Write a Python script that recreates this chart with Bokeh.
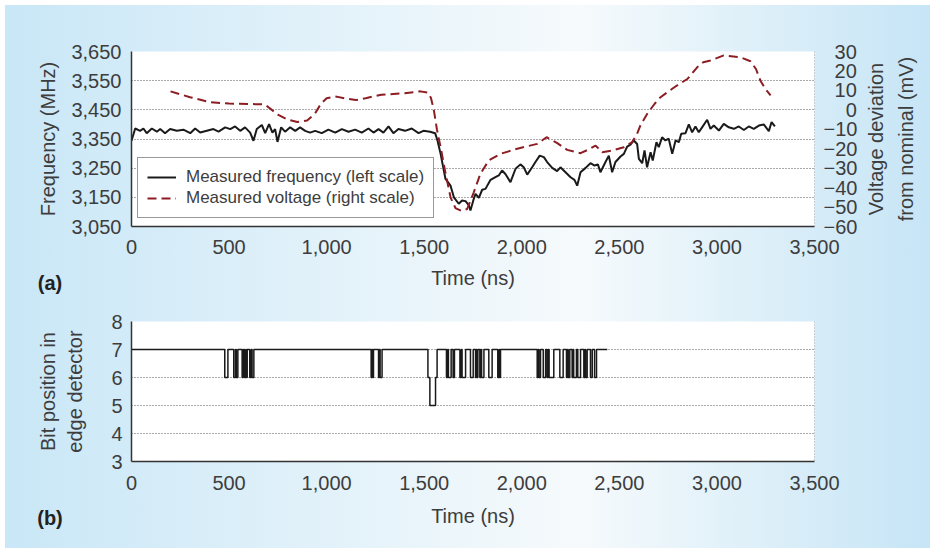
import math
from bokeh.plotting import figure
from bokeh.models import (Range1d, LinearAxis, FixedTicker, NumeralTickFormatter,
                          Legend, LegendItem, Span)
from bokeh.layouts import column, row
from bokeh.embed import file_html
from bokeh.resources import INLINE

# ---------------- data ----------------
freq_time = [0, 19, 44, 61, 78, 104, 130, 147, 172, 198, 232, 266, 301, 326, 352, 386,
             420, 446, 480, 506, 531, 557, 582, 608, 625, 642, 668, 685, 705, 722, 736,
             748, 767, 787, 813, 839, 864, 890, 915, 941, 975, 1009, 1044, 1078, 1112,
             1146, 1180, 1214, 1240, 1266, 1291, 1317, 1342, 1368, 1402, 1436, 1471,
             1496, 1530, 1556, 1568, 1584, 1609, 1635, 1652, 1677, 1694, 1712, 1729,
             1737, 1754, 1763, 1780, 1797, 1814, 1840, 1865, 1882, 1899, 1916, 1942,
             1968, 1993, 2010, 2028, 2053, 2070, 2092, 2113, 2130, 2156, 2181, 2198,
             2224, 2250, 2270, 2284, 2301, 2327, 2352, 2373, 2390, 2403, 2429, 2446,
             2463, 2480, 2506, 2523, 2540, 2557, 2574, 2591, 2600, 2617, 2629, 2642,
             2660, 2671, 2690, 2702, 2719, 2736, 2753, 2771, 2788, 2805, 2817, 2839,
             2856, 2873, 2890, 2907, 2924, 2950, 2967, 2984, 3010, 3035, 3061, 3087,
             3112, 3138, 3163, 3189, 3215, 3240, 3266, 3280, 3297]
freq_mhz = [3344, 3386, 3378, 3386, 3370, 3386, 3375, 3384, 3370, 3384, 3378, 3382, 3370,
            3386, 3372, 3378, 3384, 3375, 3390, 3384, 3393, 3378, 3390, 3372, 3344, 3384,
            3398, 3370, 3401, 3372, 3384, 3340, 3390, 3375, 3390, 3378, 3390, 3378, 3372,
            3378, 3370, 3382, 3372, 3384, 3375, 3382, 3372, 3386, 3372, 3384, 3372, 3393,
            3370, 3384, 3378, 3386, 3370, 3378, 3375, 3370, 3345, 3299, 3213, 3190, 3150,
            3128, 3139, 3137, 3122, 3105, 3145, 3162, 3148, 3176, 3179, 3210, 3219, 3225,
            3242, 3230, 3202, 3248, 3263, 3253, 3228, 3253, 3271, 3293, 3288, 3271, 3251,
            3240, 3253, 3236, 3219, 3210, 3190, 3236, 3251, 3267, 3259, 3263, 3236, 3271,
            3293, 3236, 3271, 3290, 3299, 3324, 3331, 3345, 3333, 3282, 3267, 3311, 3253,
            3305, 3276, 3339, 3322, 3356, 3345, 3351, 3299, 3345, 3339, 3368, 3370, 3400,
            3373, 3393, 3373, 3390, 3416, 3385, 3396, 3379, 3402, 3390, 3385, 3393, 3381,
            3393, 3385, 3396, 3400, 3377, 3408, 3393]

volt_time = [200, 300, 400, 500, 600, 680, 700, 750, 800, 850, 900, 940, 970, 1000, 1050,
             1100, 1150, 1200, 1280, 1400, 1480, 1520, 1535, 1550, 1565, 1584, 1610, 1635,
             1660, 1690, 1720, 1754, 1788, 1831, 1891, 1977, 2079, 2127, 2180, 2233, 2301,
             2340, 2378, 2412, 2460, 2523, 2566, 2591, 2608, 2643, 2680, 2711, 2780, 2850,
             2900, 2930, 2967, 3035, 3121, 3172, 3200, 3223, 3250, 3275]
volt_mv = [9.5, 6.5, 4.0, 3.2, 3.0, 2.8, 1.5, -2.5, -5.0, -6.3, -5.5, -2.0, 3.0, 6.0, 6.8,
           5.8, 5.0, 6.0, 7.8, 8.5, 9.5, 8.8, 6.0, -0.5, -10.0, -19.2, -33.0, -45.0, -50.5,
           -52.0, -51.0, -42.4, -32.9, -26.0, -22.6, -20.0, -17.5, -14.1, -17.0, -20.6,
           -22.3, -20.5, -18.4, -21.8, -21.0, -19.2, -16.6, -12.3, -8.0, -2.0, 3.0, 6.5,
           11.5, 16.0, 22.0, 24.5, 25.4, 28.0, 27.0, 25.0, 21.0, 15.0, 10.5, 7.4]

bit_time = [0, 478, 494, 524, 533, 537, 545, 567, 573, 579, 586, 589, 593, 606, 613, 618, 627,
            1228, 1233, 1236, 1240, 1266, 1270, 1274, 1284,
            1519, 1529, 1558, 1566, 1614, 1620, 1624, 1638, 1648, 1655, 1683, 1690, 1694,
            1712, 1737, 1751, 1763, 1766, 1770, 1775, 1785, 1790, 1794, 1806, 1831, 1848,
            1877, 1884, 1887, 1891,
            2079, 2084, 2088, 2096, 2110, 2122, 2130, 2135, 2140, 2164, 2195, 2212, 2229,
            2234, 2238, 2246, 2258, 2263, 2266, 2280, 2287, 2301, 2318, 2323, 2327, 2335,
            2352, 2361, 2373, 2383, 2438]
bit_pos = [7, 6, 7, 6, 7, 6, 7, 6, 7, 6, 7, 6, 7, 6, 7, 6, 7,
           6, 7, 6, 7, 6, 7, 6, 7,
           6, 5, 6, 7, 6, 7, 6, 7, 6, 7, 6, 7, 6,
           7, 6, 7, 6, 7, 6, 7, 6, 7, 6, 7, 6, 7,
           6, 7, 6, 7,
           6, 7, 6, 7, 6, 7, 6, 7, 6, 7, 6, 7, 6,
           7, 6, 7, 6, 7, 6, 7, 6, 7, 6, 7, 6, 7,
           6, 7, 6, 7, 7]

x_ticks = [0, 500, 1000, 1500, 2000, 2500, 3000, 3500]
freq_ticks = [3050, 3150, 3250, 3350, 3450, 3550, 3650]
volt_ticks = [-60, -50, -40, -30, -20, -10, 0, 10, 20, 30]
bit_ticks = [3, 4, 5, 6, 7, 8]

# ---------------- style ----------------
FONT = "Liberation Sans"
TXT = "#3d3d3d"
FS = "20px"
W = 925
FW = 683          # plotting frame width
TAG_L = 32        # strip frame left (page x 37) -> centre of "(a)" / "(b)"
TAG_W = 25        # strip frame width
FIG = "\u2007"    # figure space, keeps right-axis numbers right-aligned


def style_axis(ax, size=FS):
    ax.major_label_text_font = FONT
    ax.major_label_text_font_size = size
    ax.major_label_text_color = TXT
    ax.axis_label_text_font = FONT
    ax.axis_label_text_font_size = size
    ax.axis_label_text_font_style = "normal"
    ax.axis_label_text_color = TXT
    ax.major_tick_out = 0
    ax.major_tick_in = 0
    ax.minor_tick_out = 0
    ax.minor_tick_in = 0
    ax.axis_line_color = "#333333"
    ax.axis_line_width = 1.5


def base_fig(width, left, height, yr, top, bottom, lab_so, ax_so):
    p = figure(width=width, height=height, output_backend="svg", toolbar_location=None,
               x_range=Range1d(0, 3500), y_range=yr,
               min_border_left=left, min_border_right=width - left - FW,
               min_border_top=top, min_border_bottom=bottom)
    p.border_fill_alpha = 0
    p.background_fill_color = "white"
    p.outline_line_color = None
    p.xgrid.visible = False
    p.ygrid.grid_line_color = "#555555"
    p.ygrid.grid_line_dash = "1 2"
    p.ygrid.grid_line_width = 1
    p.xaxis.ticker = FixedTicker(ticks=x_ticks)
    p.xaxis.formatter = NumeralTickFormatter(format="0,0")
    p.xaxis.axis_label = "Time (ns)"
    p.xaxis.major_label_standoff = lab_so
    p.xaxis.axis_label_standoff = ax_so
    style_axis(p.xaxis[0])
    style_axis(p.yaxis[0])
    p.add_layout(Span(location=3500, dimension="height", line_color="#555555",
                      line_dash="1 2", line_width=1))
    return p


def title_strip(width, height, top, bottom, label, label_right, tag, tag_standoff,
                line_height=1.2):
    """Transparent strip: its left axis carries the y title, its bottom axis the panel tag."""
    s = figure(width=width, height=height, output_backend="svg", toolbar_location=None,
               x_range=Range1d(0, 1), y_range=Range1d(0, 1),
               min_border_left=TAG_L, min_border_right=width - TAG_L - TAG_W,
               min_border_top=top, min_border_bottom=bottom)
    s.border_fill_alpha = 0
    s.background_fill_alpha = 0
    s.outline_line_color = None
    s.grid.visible = False
    for ax in (s.xaxis[0], s.yaxis[0]):
        style_axis(ax)
        ax.ticker = FixedTicker(ticks=[])
        ax.axis_line_color = None
        ax.major_label_standoff = 0
    s.yaxis.axis_label = label
    s.yaxis.axis_label_text_line_height = line_height
    s.yaxis.axis_label_standoff = -(label_right - (5 + TAG_L))
    s.xaxis.axis_label = tag
    s.xaxis.axis_label_text_font_style = "bold"
    s.xaxis.axis_label_text_color = "#222222"
    s.xaxis.axis_label_standoff = tag_standoff
    return s


# ---------------- top panel ----------------
TOP_H, TOP_T, TOP_B = 303, 46, 82
LS1 = 60    # left strip width (top)
RW = 68     # right strip width (top)
p1 = base_fig(W - LS1 - RW, 131 - 5 - LS1, TOP_H, Range1d(3050, 3650), TOP_T, TOP_B, 13, 10)
p1.extra_y_ranges = {"v": Range1d(-60, 30)}
p1.yaxis.ticker = FixedTicker(ticks=freq_ticks)
p1.ygrid.ticker = FixedTicker(ticks=freq_ticks)
p1.yaxis.formatter = NumeralTickFormatter(format="0,0")
p1.yaxis.major_label_standoff = 10


def volt_label(t):
    if t < 0:
        return "\u2212" + str(-t)
    s = str(t)
    return FIG * (3 - len(s)) + s


rax = LinearAxis(y_range_name="v", ticker=FixedTicker(ticks=volt_ticks))
style_axis(rax)
rax.axis_line_color = None
rax.major_label_overrides = {t: volt_label(t) for t in volt_ticks}
rax.major_label_standoff = 9
p1.add_layout(rax, "right")

r_f = p1.line(freq_time, freq_mhz, line_color="#1a1a1a", line_width=2)
r_v = p1.line(volt_time, volt_mv, y_range_name="v", line_color="#8c1d22",
              line_width=2, line_dash="9 5")

leg = Legend(items=[LegendItem(label="Measured frequency (left scale)", renderers=[r_f]),
                    LegendItem(label="Measured voltage (right scale)", renderers=[r_v])],
             location=(6, 8), margin=0, padding=9, spacing=1,
             glyph_width=29, glyph_height=20, label_standoff=10,
             label_text_font=FONT, label_text_font_size="17px", label_text_color=TXT,
             border_line_color="#333333", border_line_width=1.5,
             background_fill_color="white", background_fill_alpha=1)
p1.add_layout(leg)

pl1 = title_strip(LS1, TOP_H, TOP_T, TOP_B, "Frequency (MHz)", 58, "(a)", 45)

pr = figure(width=RW, height=TOP_H, output_backend="svg", toolbar_location=None,
            x_range=Range1d(0, 1), y_range=Range1d(-60, 30), x_axis_type=None,
            min_border_left=RW - 14, min_border_right=12,
            min_border_top=TOP_T, min_border_bottom=TOP_B)
pr.border_fill_alpha = 0
pr.background_fill_alpha = 0
pr.outline_line_color = None
pr.grid.visible = False
pr.yaxis.ticker = FixedTicker(ticks=[])
pr.yaxis.axis_label = "Voltage deviation\nfrom nominal (mV)"
style_axis(pr.yaxis[0])
pr.yaxis.axis_line_color = None
pr.yaxis.axis_label_text_line_height = 1.32
pr.yaxis.axis_label_standoff = 0

# ---------------- bottom panel ----------------
BOT_H, BOT_T, BOT_B = 240, 13, 87
LS2 = 90
p2 = base_fig(W - LS2, 131 - 5 - LS2, BOT_H, Range1d(3, 8), BOT_T, BOT_B, 14, 12)
p2.yaxis.ticker = FixedTicker(ticks=bit_ticks)
p2.ygrid.ticker = FixedTicker(ticks=bit_ticks)
p2.yaxis.major_label_standoff = 9
p2.step(bit_time, bit_pos, mode="after", line_color="#1a1a1a", line_width=1.5)

pl2 = title_strip(LS2, BOT_H, BOT_T, BOT_B, "Bit position in\nedge detector", 85, "(b)", 45)

layout = column(row(pl1, p1, pr, spacing=0), row(pl2, p2, spacing=0), spacing=0,
                styles={"margin": "5px",
                        "background": "linear-gradient(90deg, #c9e7f7 0%, #f6fafc 62%, #c6e5f6 100%)"})

open("out.html", "w").write(file_html(layout, INLINE))
